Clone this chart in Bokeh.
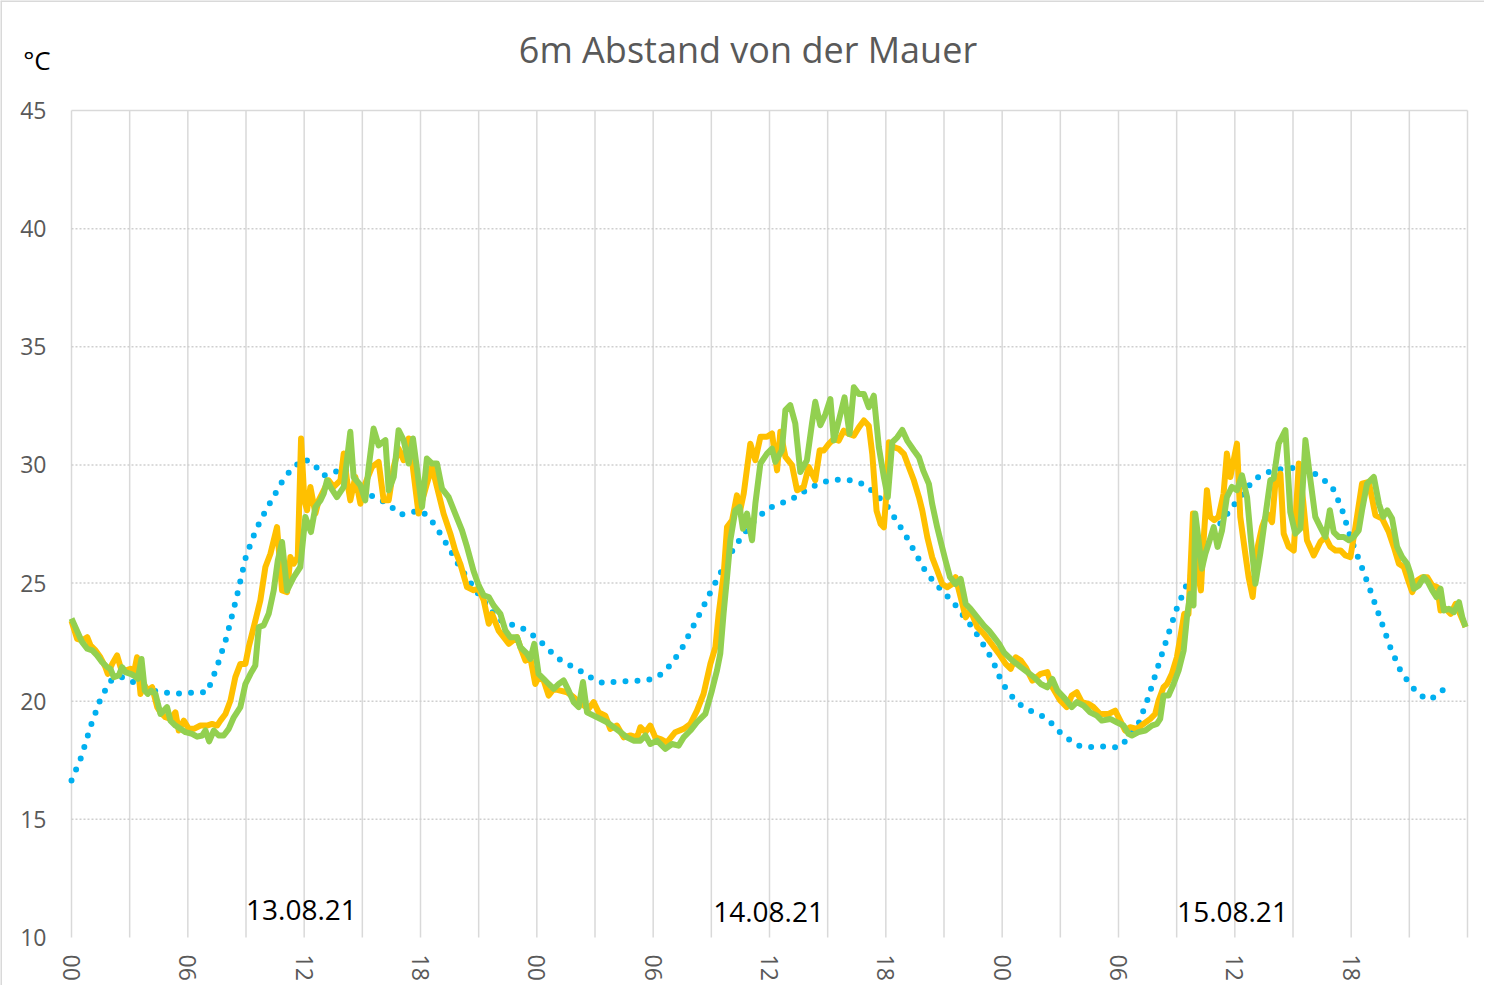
from bokeh.plotting import figure
from bokeh.models import FixedTicker
from bokeh.embed import file_html
from bokeh.resources import INLINE
from bokeh.core.properties import value

# ---------------- data ----------------
title_text = "6m Abstand von der Mauer"
unit_text = "°C"
day_labels = ["13.08.21", "14.08.21", "15.08.21"]
day_label_hours = [11.86, 35.95, 59.88]
day_label_temps = [11.15, 11.07, 11.07]
x_tick_hours = [0, 6, 12, 18, 24, 30, 36, 42, 48, 54, 60, 66]
x_tick_labels = ["00", "06", "12", "18", "00", "06", "12", "18", "00", "06", "12", "18"]
y_ticks = [10, 15, 20, 25, 30, 35, 40, 45]
x_start, x_end, x_grid_step = 0, 72, 3
y_start, y_end = 10, 45

orange_h = [0.0, 0.29, 0.55, 0.81, 0.98, 1.24, 1.49, 1.75, 1.87, 2.1, 2.35, 2.53, 2.78, 3.04, 3.21, 3.38, 3.56, 3.73, 3.93, 4.16,
            4.42, 4.59, 4.85, 5.1, 5.36, 5.53, 5.79, 6.05, 6.31, 6.65, 6.99, 7.25, 7.51, 7.68, 7.94, 8.2, 8.45, 8.71, 8.97, 9.14,
            9.4, 9.74, 10.0, 10.26, 10.6, 10.86, 11.12, 11.29, 11.46, 11.67, 11.84, 12.01, 12.15, 12.32, 12.58, 12.75, 13.01, 13.26, 13.52, 13.87,
            14.04, 14.21, 14.38, 14.64, 14.9, 15.15, 15.5, 15.84, 16.1, 16.36, 16.62, 16.87, 17.13, 17.39, 17.56, 17.9, 18.33, 18.59, 18.85, 19.19,
            19.54, 19.79, 20.05, 20.4, 20.74, 21.0, 21.26, 21.52, 21.69, 22.03, 22.29, 22.55, 22.98, 23.15, 23.41, 23.66, 23.92, 24.09, 24.35, 24.61,
            24.87, 25.21, 25.56, 25.9, 26.16, 26.42, 26.67, 26.93, 27.19, 27.53, 27.79, 28.13, 28.48, 28.83, 29.17, 29.34, 29.6, 29.85, 30.11, 30.37,
            30.71, 31.14, 31.57, 31.92, 32.26, 32.6, 32.95, 33.21, 33.38, 33.64, 33.81, 34.07, 34.32, 34.49, 34.67, 35.01, 35.27, 35.53, 35.87, 36.13,
            36.39, 36.56, 36.82, 37.16, 37.42, 37.76, 38.02, 38.36, 38.59, 38.8, 39.06, 39.32, 39.57, 39.83, 40.09, 40.35, 40.61, 40.87, 41.12, 41.3,
            41.52, 41.73, 41.9, 42.04, 42.16, 42.41, 42.67, 42.93, 43.19, 43.45, 43.71, 43.88, 44.14, 44.39, 44.65, 44.91, 45.17, 45.43, 45.6, 45.86,
            46.12, 46.37, 46.72, 47.06, 47.32, 47.58, 47.84, 48.18, 48.44, 48.7, 48.96, 49.21, 49.56, 49.99, 50.33, 50.59, 50.99, 51.33, 51.59, 51.85,
            52.11, 52.45, 52.71, 53.05, 53.48, 53.83, 54.09, 54.34, 54.6, 54.95, 55.29, 55.64, 55.89, 56.07, 56.32, 56.5, 56.75, 57.01, 57.22, 57.39,
            57.61, 57.84, 58.04, 58.25, 58.39, 58.56, 58.73, 58.94, 59.16, 59.42, 59.59, 59.77, 59.94, 60.11, 60.28, 60.54, 60.71, 60.92, 61.14, 61.4,
            61.66, 61.92, 62.09, 62.35, 62.52, 62.78, 63.04, 63.3, 63.52, 63.72, 64.07, 64.41, 64.67, 64.93, 65.19, 65.45, 65.7, 65.96, 66.22, 66.56,
            66.91, 67.25, 67.6, 67.94, 68.2, 68.46, 68.72, 68.97, 69.15, 69.4, 69.66, 69.92, 70.18, 70.44, 70.61, 70.87, 71.13, 71.39, 71.65, 71.9]
orange_t = [23.4, 22.64, 22.57, 22.71, 22.36, 22.15, 21.86, 21.44, 21.16, 21.58, 21.94, 21.44, 21.3, 21.37, 21.16, 21.86, 20.31, 20.73, 20.45, 20.59,
            19.75, 19.53, 19.32, 19.25, 19.53, 18.76, 19.18, 18.83, 18.83, 18.97, 18.97, 19.04, 18.97, 19.18, 19.46, 20.03, 21.02, 21.58, 21.58, 22.29,
            23.14, 24.27, 25.68, 26.24, 27.37, 24.69, 24.62, 26.1, 25.82, 26.1, 31.12, 28.5, 28.08, 29.07, 27.94, 28.5, 28.93, 29.35, 29.07, 29.35,
            30.48, 29.35, 28.5, 29.49, 28.36, 29.21, 29.92, 30.13, 28.5, 28.5, 29.92, 30.69, 30.2, 31.12, 30.2, 27.94, 29.21, 29.92, 29.07, 27.94,
            27.09, 26.38, 25.82, 24.83, 24.7, 24.76, 24.27, 23.28, 23.7, 22.99, 22.71, 22.43, 22.71, 22.29, 21.72, 21.86, 20.73, 21.02, 20.88, 20.24,
            20.52, 20.45, 20.38, 20.17, 19.96, 19.82, 19.68, 19.96, 19.53, 19.39, 18.83, 18.97, 18.47, 18.55, 18.47, 18.9, 18.69, 18.97, 18.47, 18.4,
            18.26, 18.69, 18.83, 19.04, 19.6, 20.31, 21.58, 22.29, 23.7, 25.4, 27.37, 27.66, 28.71, 28.08, 28.79, 30.9, 30.2, 31.19, 31.19, 31.33,
            29.77, 31.4, 30.34, 29.99, 28.93, 29.07, 29.92, 29.35, 30.62, 30.61, 30.89, 31.1, 31.03, 31.45, 31.31, 31.24, 31.59, 31.88, 31.66, 30.47,
            28.07, 27.5, 27.36, 28.91, 30.96, 30.75, 30.68, 30.47, 29.9, 29.34, 28.63, 28.07, 26.94, 26.09, 25.53, 24.96, 24.82, 24.96, 25.25, 24.4,
            23.55, 23.84, 23.13, 22.85, 22.57, 22.28, 22.0, 21.58, 21.37, 21.86, 21.72, 21.44, 20.87, 21.16, 21.23, 20.59, 20.03, 19.75, 20.24, 20.38,
            19.96, 19.89, 19.75, 19.46, 19.46, 19.6, 19.18, 18.76, 18.9, 18.83, 19.04, 19.25, 19.46, 20.03, 20.59, 20.73, 21.16, 21.86, 22.85, 23.7,
            23.7, 27.94, 25.68, 24.69, 26.81, 28.93, 27.8, 27.66, 27.8, 28.79, 30.48, 29.49, 30.2, 30.9, 27.8, 26.24, 25.25, 24.41, 26.38, 27.37,
            27.94, 27.58, 29.21, 29.63, 27.09, 26.53, 26.38, 30.06, 28.5, 26.81, 26.17, 26.74, 26.95, 26.53, 26.38, 26.38, 26.17, 26.1, 27.37, 29.21,
            29.28, 27.87, 27.73, 27.16, 26.53, 25.82, 25.68, 25.04, 24.62, 25.11, 25.25, 25.25, 24.9, 24.83, 23.84, 23.91, 23.7, 24.12, 23.63, 23.14]

green_h = [0.0, 0.55, 0.81, 1.07, 1.32, 1.58, 1.84, 2.01, 2.18, 2.44, 2.61, 2.78, 3.04, 3.21, 3.42, 3.61, 3.78, 3.93, 4.11, 4.33,
           4.59, 4.76, 4.93, 5.1, 5.36, 5.62, 5.88, 6.22, 6.48, 6.74, 6.91, 7.1, 7.34, 7.59, 7.85, 8.11, 8.37, 8.71, 8.97, 9.23,
           9.48, 9.66, 9.91, 10.17, 10.43, 10.64, 10.86, 11.12, 11.46, 11.8, 12.06, 12.35, 12.58, 12.84, 13.01, 13.18, 13.35, 13.69, 14.04, 14.38,
           14.55, 14.9, 15.15, 15.33, 15.58, 15.84, 16.19, 16.36, 16.62, 16.87, 17.13, 17.39, 17.61, 18.08, 18.33, 18.59, 18.85, 19.11, 19.45, 19.79,
           20.14, 20.4, 20.74, 21.0, 21.26, 21.52, 21.77, 22.12, 22.38, 22.63, 22.98, 23.15, 23.49, 23.66, 23.87, 24.09, 24.35, 24.61, 24.87, 25.13,
           25.38, 25.64, 25.9, 26.16, 26.38, 26.59, 26.93, 27.27, 27.62, 27.96, 28.31, 28.65, 28.99, 29.34, 29.6, 29.85, 30.2, 30.63, 30.97, 31.31,
           31.57, 31.92, 32.26, 32.69, 33.03, 33.29, 33.46, 33.63, 33.81, 33.98, 34.24, 34.46, 34.63, 34.84, 35.1, 35.27, 35.53, 35.87, 36.13, 36.3,
           36.64, 36.82, 37.07, 37.33, 37.59, 37.93, 38.19, 38.36, 38.62, 38.89, 39.14, 39.32, 39.66, 39.87, 40.13, 40.35, 40.61, 40.87, 41.12, 41.38,
           41.64, 41.9, 42.1, 42.33, 42.59, 42.85, 43.1, 43.45, 43.71, 43.93, 44.22, 44.39, 44.65, 44.86, 45.08, 45.31, 45.6, 45.86, 46.12, 46.37,
           46.72, 47.06, 47.32, 47.58, 47.84, 48.09, 48.44, 48.7, 48.96, 49.3, 49.64, 49.99, 50.33, 50.59, 50.85, 51.25, 51.59, 51.85, 52.19, 52.54,
           52.88, 53.14, 53.57, 53.91, 54.26, 54.52, 54.69, 55.03, 55.38, 55.72, 55.98, 56.15, 56.32, 56.58, 56.84, 57.1, 57.36, 57.53, 57.7, 57.87,
           57.96, 58.13, 58.3, 58.48, 58.65, 58.91, 59.11, 59.34, 59.59, 59.85, 60.11, 60.37, 60.63, 60.83, 61.06, 61.31, 61.57, 61.83, 62.0, 62.26,
           62.61, 62.86, 63.12, 63.38, 63.64, 63.9, 64.15, 64.41, 64.67, 64.9, 65.1, 65.36, 65.62, 65.88, 66.13, 66.39, 66.56, 66.82, 67.17, 67.43,
           67.65, 67.86, 68.11, 68.37, 68.63, 68.89, 69.06, 69.23, 69.49, 69.75, 69.96, 70.18, 70.4, 70.61, 70.78, 71.04, 71.3, 71.56, 71.73, 71.9]
green_t = [23.5, 22.5, 22.22, 22.15, 21.94, 21.65, 21.44, 21.37, 21.02, 21.09, 21.44, 21.23, 21.16, 21.09, 20.95, 21.79, 20.45, 20.31, 20.45, 20.31,
           19.46, 19.6, 19.75, 19.18, 18.97, 18.83, 18.69, 18.62, 18.5, 18.55, 18.76, 18.3, 18.76, 18.55, 18.55, 18.83, 19.32, 19.75, 20.73, 21.16,
           21.51, 23.14, 23.21, 23.7, 24.69, 25.96, 26.74, 24.69, 25.25, 25.68, 27.8, 27.16, 28.22, 28.5, 28.79, 29.35, 29.07, 28.64, 29.07, 31.4,
           29.49, 29.14, 28.5, 29.92, 31.54, 30.83, 31.05, 28.93, 29.49, 31.47, 31.05, 30.06, 31.12, 28.22, 30.27, 30.06, 30.06, 29.0, 28.64, 27.94,
           27.23, 26.53, 25.5, 24.9, 24.48, 24.41, 24.05, 23.7, 22.99, 22.71, 22.71, 22.29, 22.01, 21.79, 22.43, 21.16, 20.95, 20.73, 20.52, 20.73,
           20.88, 20.45, 19.96, 19.75, 20.81, 19.53, 19.39, 19.25, 19.11, 18.9, 18.69, 18.47, 18.33, 18.33, 18.55, 18.19, 18.33, 17.98, 18.19, 18.12,
           18.47, 18.76, 19.11, 19.46, 20.45, 21.3, 22.01, 23.7, 25.25, 26.81, 28.08, 28.22, 27.3, 27.94, 26.81, 28.36, 30.06, 30.48, 30.69, 30.13,
           30.62, 32.32, 32.53, 31.75, 29.7, 30.2, 31.75, 32.67, 31.68, 32.16, 32.79, 31.03, 32.16, 32.86, 31.31, 33.29, 33.0, 33.0, 32.44, 32.93,
           30.75, 29.48, 28.63, 30.96, 31.17, 31.48, 31.03, 30.61, 30.32, 29.76, 29.2, 28.35, 27.36, 26.66, 25.95, 25.25, 24.96, 25.18, 24.12, 23.91,
           23.55, 23.2, 22.99, 22.71, 22.43, 22.07, 21.79, 21.61, 21.44, 21.23, 21.02, 20.73, 20.59, 20.94, 20.45, 20.1, 19.75, 19.96, 19.82, 19.53,
           19.39, 19.18, 19.25, 19.11, 18.97, 18.62, 18.55, 18.69, 18.76, 18.97, 19.04, 19.25, 20.24, 20.24, 20.73, 21.3, 22.15, 23.56, 24.55, 24.05,
           27.94, 26.81, 25.61, 26.24, 26.67, 27.37, 26.53, 27.23, 28.64, 29.07, 28.93, 29.56, 28.64, 26.81, 24.97, 26.24, 27.8, 29.35, 29.42, 30.9,
           31.47, 28.01, 27.09, 27.3, 31.05, 29.35, 27.8, 27.37, 26.95, 28.08, 27.16, 26.95, 26.95, 26.81, 26.95, 27.23, 28.08, 29.21, 29.49, 28.36,
           27.8, 28.08, 27.73, 26.53, 26.1, 25.82, 25.4, 24.76, 24.9, 25.25, 25.04, 24.69, 24.41, 24.76, 23.84, 23.91, 23.77, 24.19, 23.56, 23.14]

blue_h = [0.0, 0.5, 1.0, 1.5, 2.0, 2.5, 3.0, 3.5, 4.0, 4.5, 5.0, 5.5, 6.0, 6.5, 7.0, 7.5, 8.0, 8.5, 9.0, 9.5,
          10.0, 10.5, 11.0, 11.5, 12.0, 12.5, 13.0, 13.5, 14.0, 14.5, 15.0, 15.5, 16.0, 16.5, 17.0, 17.5, 18.0, 18.5, 19.0, 19.5,
          20.0, 20.5, 21.0, 21.5, 22.0, 22.5, 23.0, 23.5, 24.0, 24.5, 25.0, 25.5, 26.0, 26.5, 27.0, 27.5, 28.0, 28.5, 29.0, 29.5,
          30.0, 30.5, 31.0, 31.5, 32.0, 32.5, 33.0, 33.5, 34.0, 34.5, 35.0, 35.5, 36.0, 36.5, 37.0, 37.5, 38.0, 38.5, 39.0, 39.5,
          40.0, 40.5, 41.0, 41.5, 42.0, 42.5, 43.0, 43.5, 44.0, 44.5, 45.0, 45.5, 46.0, 46.5, 47.0, 47.5, 48.0, 48.5, 49.0, 49.5,
          50.0, 50.5, 51.0, 51.5, 52.0, 52.5, 53.0, 53.5, 54.0, 54.5, 55.0, 55.5, 56.0, 56.5, 57.0, 57.5, 58.0, 58.5, 59.0, 59.5,
          60.0, 60.5, 61.0, 61.5, 62.0, 62.5, 63.0, 63.5, 64.0, 64.5, 65.0, 65.5, 66.0, 66.5, 67.0, 67.5, 68.0, 68.5, 69.0, 69.5,
          70.0, 70.5, 71.0]
blue_t = [16.64, 17.63, 18.97, 20.1, 20.85, 21.05, 20.88, 20.68, 20.5, 20.4, 20.35, 20.33, 20.35, 20.37, 20.38, 21.44, 22.71, 24.34, 26.13, 27.23,
          28.04, 28.77, 29.49, 29.93, 30.25, 30.03, 29.55, 29.66, 29.87, 29.49, 29.07, 28.69, 28.5, 28.22, 27.9, 27.99, 28.08, 27.73, 27.12, 26.44,
          25.72, 25.11, 24.52, 23.98, 23.49, 23.26, 23.2, 22.98, 22.66, 22.29, 21.86, 21.61, 21.4, 21.16, 20.88, 20.76, 20.82, 20.85, 20.85, 20.88,
          20.95, 21.19, 21.64, 22.26, 23.06, 23.86, 24.69, 25.47, 26.26, 26.88, 27.44, 27.85, 28.18, 28.35, 28.49, 28.71, 29.0, 29.18, 29.32, 29.37,
          29.37, 29.29, 29.13, 28.74, 28.35, 27.7, 27.05, 26.3, 25.56, 25.02, 24.6, 24.16, 23.61, 23.09, 22.43, 21.75, 20.76, 20.21, 19.8, 19.58,
          19.41, 19.1, 18.67, 18.35, 18.1, 18.05, 18.09, 18.08, 18.04, 18.43, 18.97, 20.07, 21.37, 22.66, 23.91, 24.9, 25.82, 26.57, 27.23, 27.81,
          28.36, 28.88, 29.38, 29.63, 29.77, 29.84, 29.87, 29.82, 29.7, 29.41, 29.11, 28.19, 26.84, 25.78, 24.66, 23.5, 22.32, 21.37, 20.75, 20.28,
          20.06, 20.28, 20.7]

# ---------------- layout ----------------
W, H = 1484, 985
PX_LEFT, PX_RIGHT, PX_TOP, PX_BOTTOM = 71, 1467, 110, 937   # plot-area edges in pixels
sx = (PX_RIGHT - PX_LEFT) / (x_end - x_start)
sy = (PX_BOTTOM - PX_TOP) / (y_end - y_start)
x_range = (x_start - PX_LEFT / sx, x_end + (W - PX_RIGHT) / sx)
y_range = (y_start - (H - PX_BOTTOM) / sy, y_end + PX_TOP / sy)

GRID = "#d9d9d9"
TICK = "#595959"
FONT = "Open Sans"

p = figure(width=W, height=H, x_range=x_range, y_range=y_range,
           output_backend="svg", toolbar_location=None,
           min_border_left=0, min_border_right=0, min_border_top=0, min_border_bottom=0)
p.outline_line_color = None
p.background_fill_color = "white"
p.border_fill_color = "white"
p.xgrid.visible = False
p.ygrid.visible = False

# chart-area border (left and top edges of the canvas)
p.segment(x0=[x_range[0], x_range[0]], y0=[y_range[0], y_range[1]],
          x1=[x_range[0], x_range[1]], y1=[y_range[1], y_range[1]],
          line_color=GRID, line_width=3)

# gridlines limited to the plot area
vgrid = list(range(x_start, x_end + 1, x_grid_step))
p.segment(x0=vgrid, y0=[y_start] * len(vgrid), x1=vgrid, y1=[y_end] * len(vgrid),
          line_color=GRID, line_width=1.5)
hgrid = y_ticks[1:-1]
p.segment(x0=[x_start] * len(hgrid), y0=hgrid, x1=[x_end] * len(hgrid), y1=hgrid,
          line_color="#cfcfcf", line_width=1.5, line_dash="2 2")
p.segment(x0=[x_start], y0=[y_end], x1=[x_end], y1=[y_end], line_color=GRID, line_width=1.5)

# axes drawn at the plot-area edges
p.xaxis.fixed_location = y_start
p.yaxis.fixed_location = x_start
p.xaxis.ticker = FixedTicker(ticks=x_tick_hours)
p.xaxis.major_label_overrides = {h: lab for h, lab in zip(x_tick_hours, x_tick_labels)}
p.xaxis.major_label_orientation = "vertical"
p.yaxis.ticker = FixedTicker(ticks=y_ticks)
for ax in (p.xaxis, p.yaxis):
    ax.axis_line_color = None
    ax.major_tick_line_color = None
    ax.minor_tick_line_color = None
    ax.major_label_text_color = TICK
    ax.major_label_text_font = FONT
    ax.major_label_text_font_size = "23px"
p.xaxis.major_label_standoff = 11
p.yaxis.major_label_standoff = 19

# series
p.line(blue_h, blue_t, line_color="#00B0F0", line_width=6, line_dash="0 12", line_cap="round")
p.line(orange_h, orange_t, line_color="#FFC000", line_width=6, line_join="round")
p.line(green_h, green_t, line_color="#92D050", line_width=6, line_join="round")

# date labels
p.text(x=day_label_hours, y=day_label_temps, text=day_labels, text_align="center",
       text_baseline="alphabetic", text_font=value(FONT), text_font_size="28px", text_color="black")

# title and unit
p.text(x=[34.89], y=[47.57], text=[title_text], text_align="center", text_baseline="alphabetic",
       text_font=value(FONT), text_font_size="36px", text_color=TICK)
p.text(x=[-2.49], y=[47.14], text=[unit_text], text_align="left", text_baseline="alphabetic",
       text_font=value(FONT), text_font_size="26px", text_color="black")

open("out.html", "w").write(file_html(p, INLINE))
